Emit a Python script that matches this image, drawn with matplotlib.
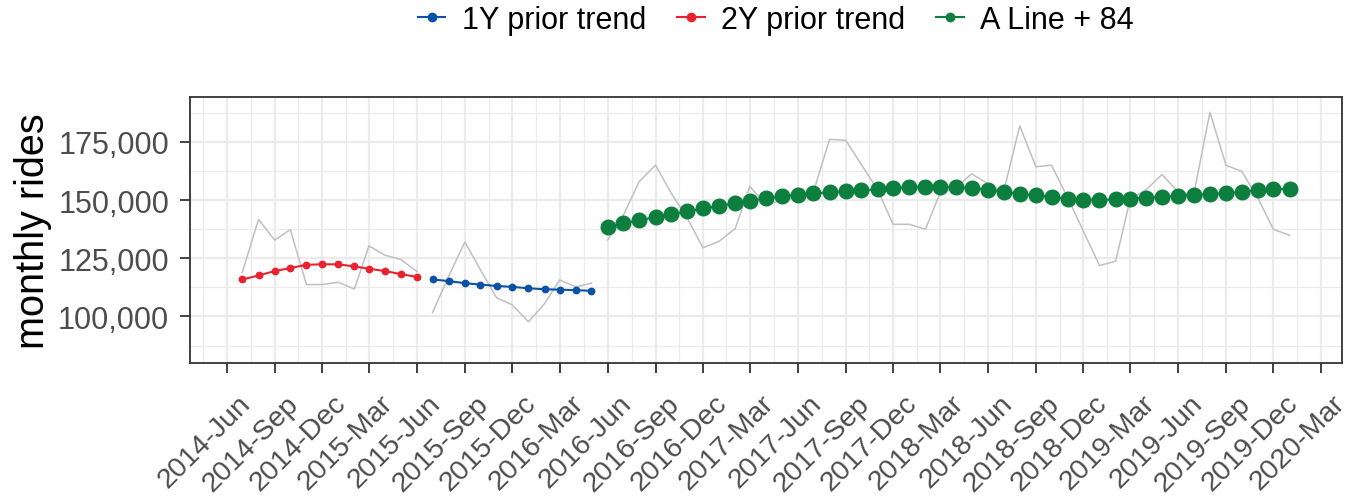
import numpy as np
import pandas as pd
import matplotlib
matplotlib.use('Agg')
import matplotlib.pyplot as plt
import matplotlib.dates as mdates
import matplotlib.transforms as mtransforms
from matplotlib.lines import Line2D
from matplotlib.ticker import FuncFormatter, FixedLocator

plt.rcParams['font.family'] = ['Liberation Sans', 'DejaVu Sans']

# ── data ──
dates_2y = pd.date_range('2014-07-01', '2015-06-01', freq='MS')
trend_2y = [115900, 117600, 119500, 120800, 122200, 122400,
            122400, 121500, 120500, 119500, 118200, 117000]
rides_2y = [119100, 141700, 132800, 137300, 113700, 113700,
            114700, 111800, 130300, 126300, 124500, 119300]

dates_1y = pd.date_range('2015-07-01', '2016-05-01', freq='MS')
trend_1y = [115900, 115200, 114300, 113700, 113100, 112700,
            112100, 111700, 111500, 111300, 111000]
rides_1y = [101700, 117300, 132000, 120000, 108000, 105000,
            97700, 105500, 115700, 112700, 114300]

dates_a = pd.date_range('2016-06-01', '2020-01-01', freq='MS')
trend_a = [138600, 140000, 141300, 142700, 143900, 145100, 146400, 147500,
           148700, 149700, 150700, 151600, 152300, 152900, 153300, 153800,
           154200, 154600, 155200, 155500, 155600, 155600, 155500, 155100,
           154500, 153600, 152600, 152000, 151300, 150600, 150100, 150100,
           150300, 150600, 151000, 151400, 151900, 152200, 152600, 153000,
           153600, 154200, 154600, 154900]
rides_a = [132800, 143400, 158100, 165000, 153000, 142200, 129500, 132300,
           137800, 155900, 147700, 150100, 151000, 153500, 176100, 175700,
           165300, 154500, 139600, 139600, 137500, 153000, 155500, 161300,
           157000, 153500, 181900, 164300, 165000, 151000, 136700, 121900,
           123700, 150500, 154500, 161000, 153500, 152500, 187700, 164900,
           162400, 150900, 137400, 134900]

tick_dates = pd.date_range('2014-06-01', '2020-03-01', freq='3MS')
y_ticks = [100000, 125000, 150000, 175000]

BLUE = '#0a52a5'
RED = '#e8232f'
GREEN = '#0c7f3f'
GRAY = '#c0c0c0'

fig = plt.figure(figsize=(13.5, 5.02), dpi=100)
ax = fig.add_axes([190 / 1350, 1 - 364 / 502, (1342 - 190) / 1350, (364 - 98) / 502])

# raw rides (thin gray)
ax.plot(dates_2y, rides_2y, color=GRAY, lw=1.1, zorder=2)
ax.plot(dates_1y, rides_1y, color=GRAY, lw=1.1, zorder=2)
ax.plot(dates_a, rides_a, color=GRAY, lw=1.1, zorder=2)

# trends
ax.plot(dates_2y, trend_2y, color=RED, lw=1.5, marker='o', ms=4.6, zorder=3)
ax.plot(dates_1y, trend_1y, color=BLUE, lw=1.5, marker='o', ms=4.6, zorder=3)
ax.plot(dates_a, trend_a, color=GREEN, lw=1.5, marker='o', ms=10.5, zorder=3)

# axes limits (ggplot-like 5% expansion on x)
x0 = mdates.date2num(dates_2y[0])
x1 = mdates.date2num(dates_a[-1])
pad = (x1 - x0) * 0.05
ax.set_xlim(x0 - pad, x1 + pad)
ax.set_ylim(80000, 194300)

# ticks
tick_nums = mdates.date2num(tick_dates)
ax.xaxis.set_major_locator(FixedLocator(tick_nums))
ax.set_xticklabels([d.strftime('%Y-%b') for d in tick_dates])
step = tick_nums[1] - tick_nums[0]
minor_x = np.concatenate([[tick_nums[0] - step / 2], (tick_nums[:-1] + tick_nums[1:]) / 2,
                          [tick_nums[-1] + step / 2]])
ax.xaxis.set_minor_locator(FixedLocator(minor_x))
ax.yaxis.set_major_locator(FixedLocator(y_ticks))
ax.yaxis.set_minor_locator(FixedLocator([87500, 112500, 137500, 162500, 187500]))
ax.yaxis.set_major_formatter(FuncFormatter(lambda v, p: f'{int(v):,}'))

ax.grid(True, which='major', color='#ebebeb', lw=1.6, zorder=0)
ax.grid(True, which='minor', color='#ebebeb', lw=0.9, zorder=0)
ax.set_axisbelow(True)
ax.tick_params(which='minor', length=0)
ax.tick_params(which='major', length=7, width=1.3, color='#333333',
               labelcolor='#4d4d4d')
ax.tick_params(axis='y', pad=8, labelsize=22)
ax.tick_params(axis='x', pad=3, labelsize=20.5)
shift = mtransforms.ScaledTranslation(11 / 100, -13 / 100, fig.dpi_scale_trans)
for lab in ax.get_xticklabels():
    lab.set_rotation(45)
    lab.set_ha('right')
    lab.set_va('top')
    lab.set_rotation_mode('anchor')
    lab.set_transform(lab.get_transform() + shift)
for sp in ax.spines.values():
    sp.set_color('#333333')
    sp.set_linewidth(1.3)

ax.set_ylabel('monthly rides', fontsize=28.5, color='black', labelpad=4)

handles = [Line2D([], [], color=c, lw=1.5, marker='o', ms=6) for c in (BLUE, RED, GREEN)]
fig.legend(handles, ['1Y prior trend', '2Y prior trend', 'A Line + 84'],
           loc='center', bbox_to_anchor=(776 / 1350, 1 - 21 / 502), ncol=3,
           frameon=False, fontsize=22, handlelength=0.9, handletextpad=0.55,
           columnspacing=1.0)

fig.savefig('out.png', dpi=100)
